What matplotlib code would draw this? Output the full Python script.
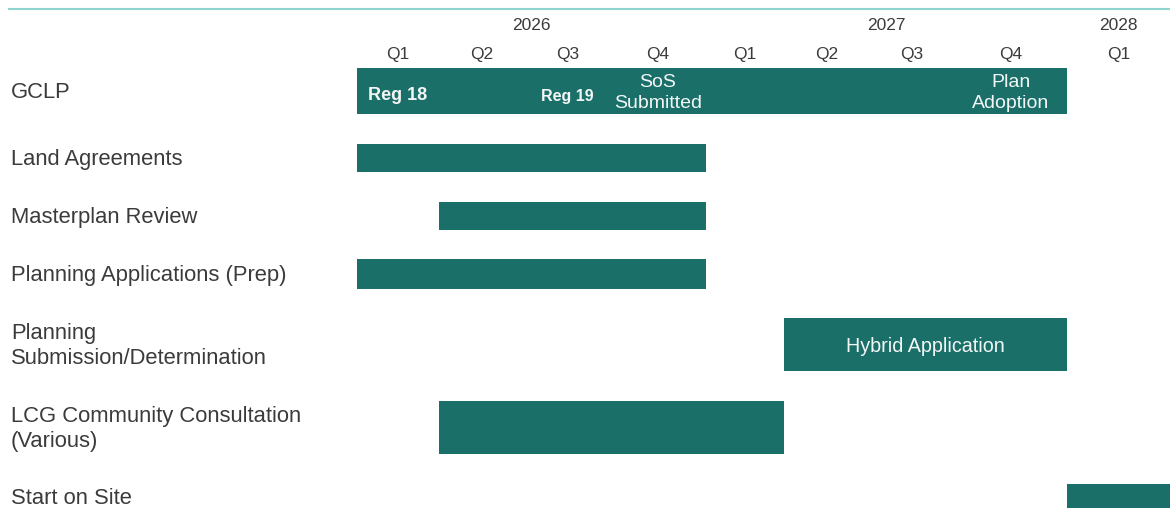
import matplotlib
matplotlib.use('Agg')
import matplotlib.pyplot as plt
from matplotlib.lines import Line2D
import numpy as np

plt.rcParams['font.family'] = ['Liberation Sans', 'DejaVu Sans']

# Dados do cronograma (índices de trimestre, 0 = Q1 2026)
tasks = ['GCLP', 'Land Agreements', 'Masterplan Review', 'Planning Applications (Prep)',
         'Planning\nSubmission/Determination', 'LCG Community Consultation\n(Various)',
         'Start on Site']
task_start = [0, 0, 1, 0, 5, 1, 8]
task_end = [8, 4, 4, 4, 8, 5, 9]
bar_text = ['', '', '', '', 'Hybrid Application', '', '']

quarters = ['Q1', 'Q2', 'Q3', 'Q4', 'Q1', 'Q2', 'Q3', 'Q4', 'Q1']
years = ['2026', '2027', '2028']
year_span = [(0, 4), (4, 8), (8, 9)]

# Marcos dentro da barra GCLP
milestones = ['Reg 18', 'Reg 19', 'SoS\nSubmitted', 'Plan\nAdoption']
milestone_q = [0.5, 2.5, 3.5, 7.5]

# Layout (pixels da figura)
W, H = 1170, 508
q_edges_px = [357, 439, 525, 610, 706, 784, 869, 955, 1067, 1170]
label_y = [91, 158, 216, 274, 344, 427, 496]
bar_y = [91, 158, 216, 274, 344, 427, 510]
bar_h = [46, 28, 28, 30, 53, 53, 53]
ms_size = [13, 11.5, 14, 14]
teal = '#1b6f69'
grey = '#3b3b3b'
white = '#f2f7f6'
dy = 2  # compensa o descendente no alinhamento vertical

q_idx = np.arange(len(q_edges_px))

def fwd(x):
    return np.interp(x, q_idx, q_edges_px)

def inv(x):
    return np.interp(x, q_edges_px, q_idx)

fig = plt.figure(figsize=(W / 100, H / 100), dpi=100)
left = q_edges_px[0] / W
ax = fig.add_axes([left, 0, 1 - left, 1])
ax.set_xscale('function', functions=(fwd, inv))
ax.set_xlim(0, 9)
ax.set_ylim(H, 0)
ax.axis('off')

# Barras
for i, t in enumerate(tasks):
    ax.barh(bar_y[i], task_end[i] - task_start[i], left=task_start[i], height=bar_h[i],
            color=teal, edgecolor='none')
    if bar_text[i]:
        mid = inv((fwd(task_start[i]) + fwd(task_end[i])) / 2)
        ax.text(mid, bar_y[i] + dy, bar_text[i], ha='center', va='center', color=white,
                fontsize=14.2)
    fig.text(11 / W, 1 - (label_y[i] + dy) / H, t, ha='left', va='center', color=grey,
             fontsize=15.8, linespacing=1.3)

# Marcos
for m, q, s in zip(milestones, milestone_q, ms_size):
    bold = m.startswith('Reg')
    ax.text(q, bar_y[0] + (3 if bold else 0) + dy, m, ha='center', va='center', color=white,
            fontsize=s, fontweight='bold' if bold else 'normal', linespacing=1.25)

# Cabeçalho: trimestres e anos
for i, q in enumerate(quarters):
    mid = inv((q_edges_px[i] + q_edges_px[i + 1]) / 2)
    ax.text(mid, 53 + dy, q, ha='center', va='center', color=grey, fontsize=12.5)
for y, (a, b) in zip(years, year_span):
    mid = inv((fwd(a) + fwd(b)) / 2)
    ax.text(mid, 24 + dy, y, ha='center', va='center', color=grey, fontsize=12.5)

# Linha superior
fig.add_artist(Line2D([9 / W, 1], [1 - 9 / H, 1 - 9 / H], color='#8fd4cf', linewidth=1.5,
                      transform=fig.transFigure))

fig.savefig('out.png', dpi=100)
